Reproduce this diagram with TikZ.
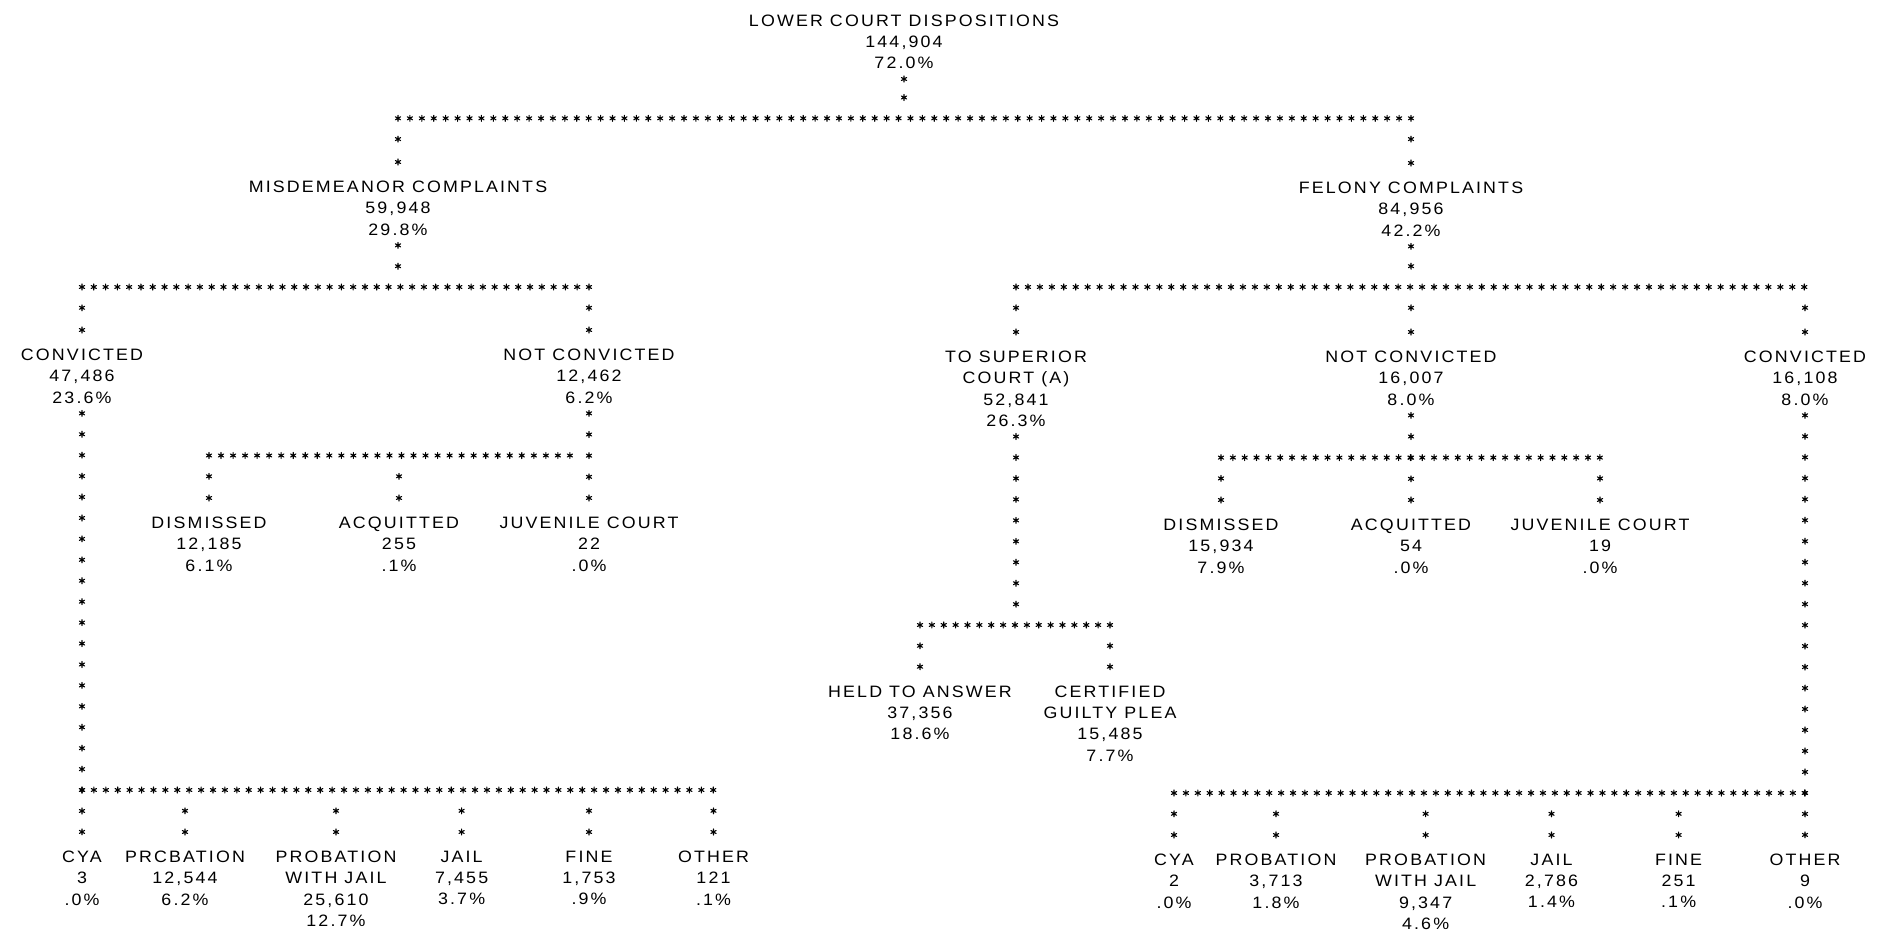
\documentclass[tikz,border=0pt]{standalone}
\usepackage{fontspec}
\setmainfont{Liberation Sans}[LetterSpace=13,FakeStretch=1.08]
\usetikzlibrary{decorations.markings,calc}
\newcommand\astk{\pgftransformresetnontranslations
 \pgfsetlinewidth{1.1pt}\pgfsetroundcap
 \pgfpathmoveto{\pgfpoint{0pt}{-3pt}}\pgfpathlineto{\pgfpoint{0pt}{3pt}}%
 \pgfpathmoveto{\pgfpoint{-2.6pt}{-1.5pt}}\pgfpathlineto{\pgfpoint{2.6pt}{1.5pt}}%
 \pgfpathmoveto{\pgfpoint{-2.6pt}{1.5pt}}\pgfpathlineto{\pgfpoint{2.6pt}{-1.5pt}}%
 \pgfusepath{stroke}}
\tikzset{
 lbl/.style={align=center, inner sep=0pt, text depth=0pt, anchor=north,
   font=\fontsize{16.5}{21.2}\selectfont},
 stars/.style={decorate, decoration={markings,
   mark=between positions 0 and 1 step 0.99999/#1 with {\astk}}}
}
\begin{document}
\begin{tikzpicture}[x=1pt,y=-1pt]
\fill[white] (0,0) rectangle (1877,932);
\useasboundingbox (0,0) rectangle (1877,932);
% nodes
\node[lbl] (lcd) at (904,14.7) {LOWER COURT DISPOSITIONS\\144,904\\72.0\%};
\node[lbl] (misd) at (398,181) {MISDEMEANOR COMPLAINTS\\59,948\\29.8\%};
\node[lbl] (fel) at (1411,182) {FELONY COMPLAINTS\\84,956\\42.2\%};
\node[lbl] (convL) at (82,349) {CONVICTED\\47,486\\23.6\%};
\node[lbl] (ncL) at (589,349) {NOT CONVICTED\\12,462\\6.2\%};
\node[lbl] (sup) at (1016,351) {TO SUPERIOR\\COURT (A)\\52,841\\26.3\%};
\node[lbl] (ncR) at (1411,351) {NOT CONVICTED\\16,007\\8.0\%};
\node[lbl] (convR) at (1805,351) {CONVICTED\\16,108\\8.0\%};
\node[lbl] (dismL) at (209,517) {DISMISSED\\12,185\\6.1\%};
\node[lbl] (acqL) at (399,517) {ACQUITTED\\255\\.1\%};
\node[lbl] (juvL) at (589,517) {JUVENILE COURT\\22\\.0\%};
\node[lbl] (dismR) at (1221,519) {DISMISSED\\15,934\\7.9\%};
\node[lbl] (acqR) at (1411,519) {ACQUITTED\\54\\.0\%};
\node[lbl] (juvR) at (1600,519) {JUVENILE COURT\\19\\.0\%};
\node[lbl] (held) at (920,685.7) {HELD TO ANSWER\\37,356\\18.6\%};
\node[lbl] (cert) at (1110,685.7) {CERTIFIED\\GUILTY PLEA\\15,485\\7.7\%};
\node[lbl] (cyaL) at (82,851) {CYA\\3\\.0\%};
\node[lbl] (probL) at (185,851) {PRCBATION\\12,544\\6.2\%};
\node[lbl] (pwjL) at (336,851) {PROBATION\\WITH JAIL\\25,610\\12.7\%};
\node[lbl] (jailL) at (461.6,851) {JAIL\\7,455\\3.7\%};
\node[lbl] (fineL) at (589,851) {FINE\\1,753\\.9\%};
\node[lbl] (othL) at (713.5,851) {OTHER\\121\\.1\%};
\node[lbl] (cyaR) at (1174,854) {CYA\\2\\.0\%};
\node[lbl] (probR) at (1276,854) {PROBATION\\3,713\\1.8\%};
\node[lbl] (pwjR) at (1425.6,854) {PROBATION\\WITH JAIL\\9,347\\4.6\%};
\node[lbl] (jailR) at (1551.5,854) {JAIL\\2,786\\1.4\%};
\node[lbl] (fineR) at (1678.6,854) {FINE\\251\\.1\%};
\node[lbl] (othR) at (1805,854) {OTHER\\9\\.0\%};
% bar junctions
\coordinate (b0) at (904,118.3);
\coordinate (b1) at (398,287);
\coordinate (b2) at (1411,287);
\coordinate (b3) at (589,455.5);
\coordinate (b4) at (1411,457.6);
\coordinate (b5) at (1016,625);
\coordinate (b6) at (82,790);
\coordinate (b7) at (1805,793);
% lower court
\draw[stars=1] ($(lcd.south)+(0,10)$) -- ($(b0)+(0,-20.8)$);
\draw[stars=85] (misd |- b0) -- (fel |- b0);
\draw[stars=1] ($(misd |- b0)+(0,20.8)$) -- ($(misd.north)+(0,-19)$);
\draw[stars=1] ($(fel |- b0)+(0,20.8)$) -- ($(fel.north)+(0,-19)$);
% misdemeanor
\draw[stars=1] ($(misd.south)+(0,10)$) -- ($(b1)+(0,-20.8)$);
\draw[stars=43] (convL |- b1) -- (ncL |- b1);
\draw[stars=1] ($(convL |- b1)+(0,20.8)$) -- ($(convL.north)+(0,-19)$);
\draw[stars=1] ($(ncL |- b1)+(0,20.8)$) -- ($(ncL.north)+(0,-19)$);
% felony
\draw[stars=1] ($(fel.south)+(0,10)$) -- ($(b2)+(0,-20.8)$);
\draw[stars=66] (sup |- b2) -- (convR |- b2);
\draw[stars=1] ($(sup |- b2)+(0,20.8)$) -- ($(sup.north)+(0,-19)$);
\draw[stars=1] ($(ncR |- b2)+(0,20.8)$) -- ($(ncR.north)+(0,-19)$);
\draw[stars=1] ($(convR |- b2)+(0,20.8)$) -- ($(convR.north)+(0,-19)$);
% misdemeanor not convicted
\draw[stars=4] ($(ncL.south)+(0,10)$) -- ($(juvL.north)+(0,-19)$);
\draw[stars=30] (dismL |- b3) -- ($(juvL |- b3)+(-19,0)$);
\draw[stars=1] ($(dismL |- b3)+(0,20.8)$) -- ($(dismL.north)+(0,-19)$);
\draw[stars=1] ($(acqL |- b3)+(0,20.8)$) -- ($(acqL.north)+(0,-19)$);
% felony not convicted
\draw[stars=4] ($(ncR.south)+(0,10)$) -- ($(acqR.north)+(0,-19)$);
\draw[stars=32] (dismR |- b4) -- (juvR |- b4);
\draw[stars=1] ($(dismR |- b4)+(0,20.8)$) -- ($(dismR.north)+(0,-19)$);
\draw[stars=1] ($(juvR |- b4)+(0,20.8)$) -- ($(juvR.north)+(0,-19)$);
% to superior court
\draw[stars=8] ($(sup.south)+(0,10)$) -- ($(b5)+(0,-20.8)$);
\draw[stars=16] (held |- b5) -- (cert |- b5);
\draw[stars=1] ($(held |- b5)+(0,20.8)$) -- ($(held.north)+(0,-19)$);
\draw[stars=1] ($(cert |- b5)+(0,20.8)$) -- ($(cert.north)+(0,-19)$);
% misdemeanor convicted
\draw[stars=20] ($(convL.south)+(0,10)$) -- ($(cyaL.north)+(0,-19)$);
\draw[stars=53] (cyaL |- b6) -- (othL |- b6);
\foreach \c in {probL,pwjL,jailL,fineL,othL}
  \draw[stars=1] ($(\c |- b6)+(0,20.8)$) -- ($(\c.north)+(0,-19)$);
% felony convicted
\draw[stars=20] ($(convR.south)+(0,10)$) -- ($(othR.north)+(0,-19)$);
\draw[stars=53] (cyaR |- b7) -- (othR |- b7);
\foreach \c in {cyaR,probR,pwjR,jailR,fineR}
  \draw[stars=1] ($(\c |- b7)+(0,20.8)$) -- ($(\c.north)+(0,-19)$);
\end{tikzpicture}
\end{document}
